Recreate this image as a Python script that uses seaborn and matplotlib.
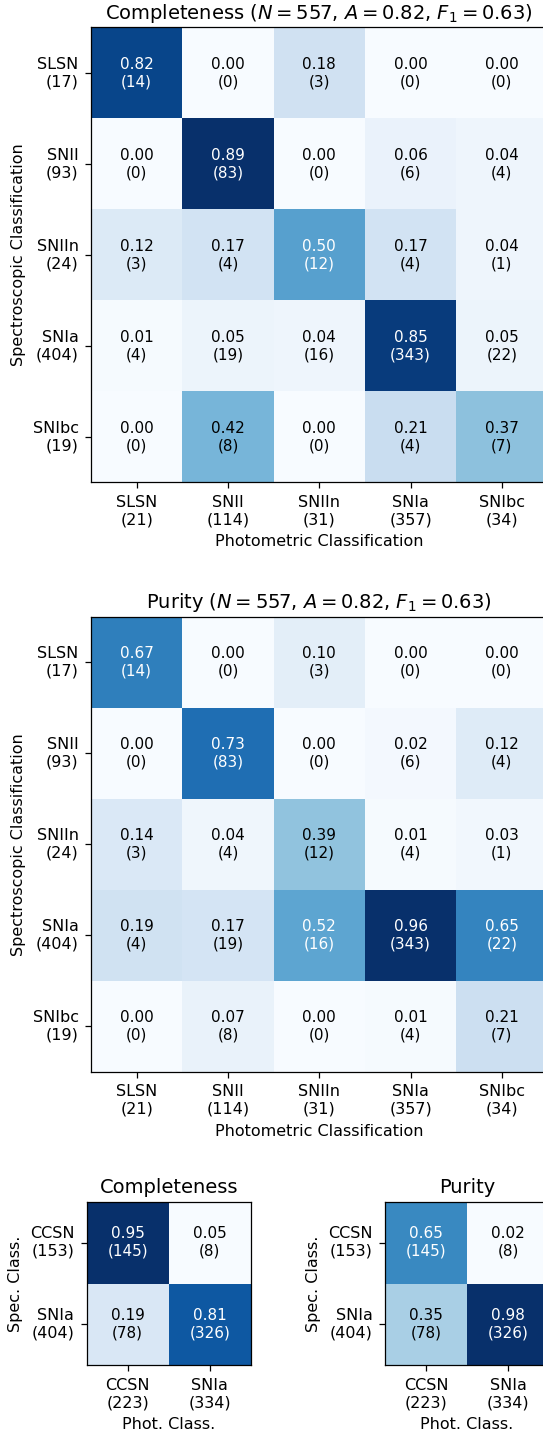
import matplotlib
matplotlib.use("Agg")

import matplotlib.pyplot as plt
import seaborn as sns
import numpy as np

# ──────────────────────────────────────────────
# Data
# ──────────────────────────────────────────────

classes = ["SLSN", "SNII", "SNIIn", "SNIa", "SNIbc"]
spec_totals = [17, 93, 24, 404, 19]
phot_totals = [21, 114, 31, 357, 34]

counts = [
    [14, 0, 3, 0, 0],
    [0, 83, 0, 6, 4],
    [3, 4, 12, 4, 1],
    [4, 19, 16, 343, 22],
    [0, 8, 0, 4, 7],
]
completeness = [
    [0.82, 0.00, 0.18, 0.00, 0.00],
    [0.00, 0.89, 0.00, 0.06, 0.04],
    [0.12, 0.17, 0.50, 0.17, 0.04],
    [0.01, 0.05, 0.04, 0.85, 0.05],
    [0.00, 0.42, 0.00, 0.21, 0.37],
]
purity = [
    [0.67, 0.00, 0.10, 0.00, 0.00],
    [0.00, 0.73, 0.00, 0.02, 0.12],
    [0.14, 0.04, 0.39, 0.01, 0.03],
    [0.19, 0.17, 0.52, 0.96, 0.65],
    [0.00, 0.07, 0.00, 0.01, 0.21],
]

bin_classes = ["CCSN", "SNIa"]
bin_spec_totals = [153, 404]
bin_phot_totals = [223, 334]
bin_counts = [[145, 8], [78, 326]]
bin_completeness = [[0.95, 0.05], [0.19, 0.81]]
bin_purity = [[0.65, 0.02], [0.35, 0.98]]

stats_title = r"($N = 557$, $A = 0.82$, $F_1 = 0.63$)"

TITLE_FS = 14
LABEL_FS = 11.5
ANNOT_FS = 11


def draw_matrix(ax, frac, cnt, names, row_tot, col_tot, title, xlabel, ylabel):
    """Confusion-matrix style heatmap with 'frac\n(count)' annotations."""
    frac = np.asarray(frac)
    cnt = np.asarray(cnt)
    sns.heatmap(frac, ax=ax, cmap="Blues", cbar=False,
                xticklabels=[f"{n}\n({t})" for n, t in zip(names, col_tot)],
                yticklabels=[f"{n}\n({t})" for n, t in zip(names, row_tot)])

    thresh = frac.max() / 2.0
    for i in range(frac.shape[0]):
        for j in range(frac.shape[1]):
            ax.text(j + 0.5, i + 0.5, f"{frac[i, j]:.2f}\n({cnt[i, j]})",
                    ha="center", va="center", fontsize=ANNOT_FS,
                    color="white" if frac[i, j] > thresh else "black")

    # seaborn strips the frame and tick marks; put them back
    for s in ax.spines.values():
        s.set_visible(True)
        s.set_linewidth(0.9)
        s.set_color("black")
    ax.tick_params(axis="both", length=4.5, width=0.9, pad=4.5,
                   labelsize=LABEL_FS)
    plt.setp(ax.get_yticklabels(), rotation=0, ha="right", va="center")
    plt.setp(ax.get_xticklabels(), rotation=0, ha="center")
    ax.set_title(title, fontsize=TITLE_FS)
    ax.set_xlabel(xlabel, fontsize=LABEL_FS, labelpad=5)
    ax.set_ylabel(ylabel, fontsize=LABEL_FS, labelpad=5)


fig = plt.figure(figsize=(5.43, 14.33), dpi=100)

ax_c = fig.add_axes([0.1676, 0.6634, 0.8407, 0.3175])
ax_p = fig.add_axes([0.1676, 0.2521, 0.8407, 0.3175])
ax_bc = fig.add_axes([0.1597, 0.0472, 0.3020, 0.1142])
ax_bp = fig.add_axes([0.7090, 0.0472, 0.3020, 0.1142])

draw_matrix(ax_c, completeness, counts, classes, spec_totals, phot_totals,
            "Completeness " + stats_title,
            "Photometric Classification", "Spectroscopic Classification")
draw_matrix(ax_p, purity, counts, classes, spec_totals, phot_totals,
            "Purity " + stats_title,
            "Photometric Classification", "Spectroscopic Classification")
draw_matrix(ax_bc, bin_completeness, bin_counts, bin_classes,
            bin_spec_totals, bin_phot_totals,
            "Completeness", "Phot. Class.", "Spec. Class.")
draw_matrix(ax_bp, bin_purity, bin_counts, bin_classes,
            bin_spec_totals, bin_phot_totals,
            "Purity", "Phot. Class.", "Spec. Class.")

fig.savefig("out.png", dpi=100)
plt.close(fig)
